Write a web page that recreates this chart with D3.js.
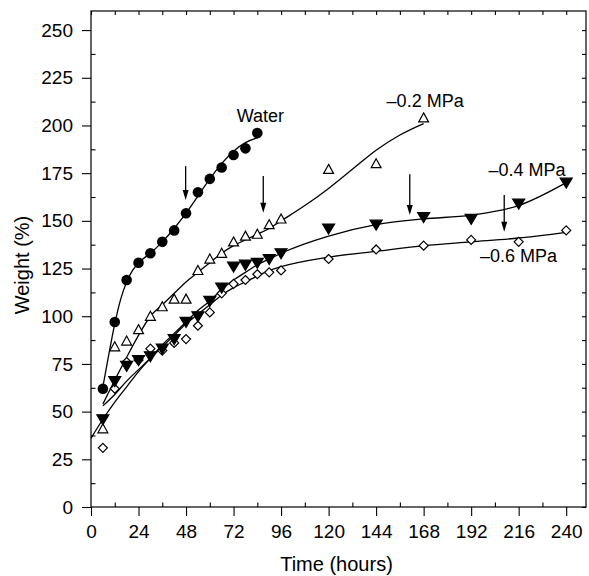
<!DOCTYPE html>
<html>
<head>
<meta charset="utf-8">
<script src="https://cdn.jsdelivr.net/npm/d3@7"></script>
<style>
  body { margin: 0; background: #fff; }
  text { font-family: "Liberation Sans", Arial, sans-serif; fill: #000; }
</style>
</head>
<body>
<svg id="chart" width="589" height="576"></svg>
<script>
// measured points (hours, weight %)
var waterX = [6, 12, 18, 24, 30, 36, 42, 48, 54, 60, 66, 72, 78, 84]
var waterY = [62, 97, 119, 128, 133, 139, 145, 154, 165, 172, 178, 184.5, 188, 196]

var mpa02X = [6, 12, 18, 24, 30, 36, 42, 48, 54, 60, 66, 72, 78, 84, 90, 96, 120, 144, 168]
var mpa02Y = [41, 84, 87, 93, 100, 105, 109, 109, 124, 130, 133, 139, 142, 143, 148, 151, 177, 180, 204]

var mpa04X = [6, 12, 18, 24, 30, 36, 42, 48, 54, 60, 66, 72, 78, 84, 90, 96, 120, 144, 168, 192, 216, 240]
var mpa04Y = [46, 66, 74, 77, 79, 83, 88, 97, 100, 108, 115, 126, 127, 128, 130, 133, 146, 148, 152, 151, 159, 170]

var mpa06X = [6, 12, 18, 24, 30, 36, 42, 48, 54, 60, 66, 72, 78, 84, 90, 96, 120, 144, 168, 192, 216, 240]
var mpa06Y = [31, 62, 76, 77, 83, 82, 86, 88, 95, 102, 112, 117, 119, 122, 123, 124, 130, 135, 137, 140, 139, 145]

// fitted curves
var waterFit = [[6, 63], [9, 80], [12, 96], [15, 109], [18, 118], [21, 124], [24, 128], [30, 133], [36, 139], [42, 146], [48, 154], [54, 163], [60, 172], [66, 180], [72, 186.5], [78, 191], [84, 193.5]]
var mpa02Fit = [[6, 54], [12, 66.5], [18, 78.5], [24, 90], [30, 100], [36, 106], [42, 112], [48, 118], [54, 123], [60, 128], [66, 133], [72, 137], [78, 140], [84, 143], [90, 146], [96, 150], [108, 158], [120, 167], [132, 177], [144, 187], [156, 195], [168, 201]]
var mpa04Fit = [[0, 36], [6, 46], [12, 55], [18, 63], [24, 71], [30, 78], [36, 85], [42, 91], [48, 97], [54, 103], [60, 108], [66, 114], [72, 119], [78, 123], [84, 127], [90, 130], [96, 133], [120, 142], [144, 148], [168, 151], [192, 153], [216, 158], [240, 170]]
var mpa06Fit = [[6, 53], [12, 59], [18, 66], [24, 72], [30, 78], [36, 84], [42, 90], [48, 96], [54, 101], [60, 106], [66, 111], [72, 115], [78, 118], [84, 121], [90, 124], [96, 126], [120, 131], [144, 134], [168, 137], [192, 139], [216, 141], [240, 144]]

var xTicks = [0, 24, 48, 72, 96, 120, 144, 168, 192, 216, 240]
var yTicks = [0, 25, 50, 75, 100, 125, 150, 175, 200, 225, 250]

// annotations in data units
var labelText = ['Water', '\u20130.2 MPa', '\u20130.4 MPa', '\u20130.6 MPa']
var labelX = [73.6, 149.3, 200.7, 196.5]
var labelY = [201.7, 209.8, 173.7, 128.3]
var arrowX = [47.8, 87, 161, 208.7]
var arrowFrom = [178.7, 173.5, 174.4, 163.5]
var arrowTo = [160.9, 154.2, 153, 144.3]

var svg = d3.select('#chart')
var plotL = 91, plotR = 586, plotT = 11, plotB = 507

var x = d3.scaleLinear().domain([0, 250]).range([plotL, plotR])
var y = d3.scaleLinear().domain([0, 260]).range([plotB, plotT])

svg.append('rect').attr('width', 589).attr('height', 576).attr('fill', '#fff')

var minorX = d3.range(12, 250, 24)
var minorY = d3.range(12.5, 260, 25)

//minor ticks point inward
svg.append('g')
  .attr('transform', 'translate(0,' + plotB + ')')
  .call(d3.axisBottom(x).tickValues(minorX).tickSize(-4.5).tickFormat(''))
svg.append('g')
  .attr('transform', 'translate(' + plotL + ',0)')
  .call(d3.axisLeft(y).tickValues(minorY).tickSize(-4.5).tickFormat(''))

//mirror ticks on top and right
svg.append('g')
  .attr('transform', 'translate(0,' + plotT + ')')
  .call(d3.axisTop(x).tickValues(xTicks.concat(minorX)).tickSize(-4).tickFormat(''))
svg.append('g')
  .attr('transform', 'translate(' + plotR + ',0)')
  .call(d3.axisRight(y).tickValues(yTicks.concat(minorY)).tickSize(-4).tickFormat(''))

svg.append('g')
  .attr('transform', 'translate(0,' + plotB + ')')
  .call(d3.axisBottom(x).tickValues(xTicks).tickSize(9).tickPadding(9))
svg.append('g')
  .attr('transform', 'translate(' + plotL + ',0)')
  .call(d3.axisLeft(y).tickValues(yTicks).tickSize(9).tickPadding(9))

svg.selectAll('.domain').remove()
svg.selectAll('.tick line').attr('stroke', '#000').attr('stroke-width', 1.1)
svg.selectAll('.tick text')
  .style('font-family', '"Liberation Sans", Arial, sans-serif')
  .style('font-size', '19px')
  .attr('fill', '#000')

svg.append('rect')
  .attr('x', plotL).attr('y', plotT)
  .attr('width', plotR - plotL).attr('height', plotB - plotT)
  .attr('fill', 'none').attr('stroke', '#000').attr('stroke-width', 1.2)

svg.append('text')
  .attr('x', (plotL + plotR) / 2 - 2)
  .attr('y', 571)
  .attr('text-anchor', 'middle')
  .style('font-size', '20px')
  .text('Time (hours)')

svg.append('text')
  .attr('transform', 'translate(29,265) rotate(-90)')
  .attr('text-anchor', 'middle')
  .style('font-size', '20px')
  .text('Weight (%)')

// fitted lines
var line = d3.line()
  .x(function (d) { return x(d[0]) })
  .y(function (d) { return y(d[1]) })
  .curve(d3.curveMonotoneX)

var fits = [waterFit, mpa02Fit, mpa04Fit, mpa06Fit]
svg.append('g').selectAll('path')
  .data(fits)
  .enter()
  .append('path')
  .attr('d', line)
  .attr('fill', 'none')
  .attr('stroke', '#000')
  .attr('stroke-width', 1.3)

// marker shapes
function triUp (s) {
  return 'M0,' + (-s * 0.55) + 'L' + (s * 0.55) + ',' + (s * 0.45) + 'L' + (-s * 0.55) + ',' + (s * 0.45) + 'Z'
}
function triDown (s) {
  return 'M0,' + (s * 0.55) + 'L' + (s * 0.6) + ',' + (-s * 0.45) + 'L' + (-s * 0.6) + ',' + (-s * 0.45) + 'Z'
}
function diamond (s) {
  return 'M0,' + (-s / 2) + 'L' + (s / 2) + ',0L0,' + (s / 2) + 'L' + (-s / 2) + ',0Z'
}

function zip (xs, ys) {
  return xs.map(function (v, i) { return [v, ys[i]] })
}

var series = [
  { pts: zip(mpa06X, mpa06Y), shape: diamond(9), fill: '#fff' },
  { pts: zip(mpa02X, mpa02Y), shape: triUp(9), fill: '#fff' },
  { pts: zip(mpa04X, mpa04Y), shape: triDown(10), fill: '#000' },
  { pts: zip(waterX, waterY), shape: null, fill: '#000' }
]

series.forEach(function (s) {
  var g = svg.append('g')
  if (s.shape) {
    g.selectAll('path')
      .data(s.pts)
      .enter()
      .append('path')
      .attr('transform', function (d) { return 'translate(' + x(d[0]) + ',' + y(d[1]) + ')' })
      .attr('d', s.shape)
      .attr('fill', s.fill)
      .attr('stroke', '#000')
      .attr('stroke-width', 1.2)
  } else {
    g.selectAll('circle')
      .data(s.pts)
      .enter()
      .append('circle')
      .attr('cx', function (d) { return x(d[0]) })
      .attr('cy', function (d) { return y(d[1]) })
      .attr('r', 5.3)
      .attr('fill', s.fill)
  }
})

// arrows
var arrows = svg.append('g')
arrowX.forEach(function (ax, i) {
  var px = x(ax), y0 = y(arrowFrom[i]), y1 = y(arrowTo[i])
  arrows.append('line')
    .attr('x1', px).attr('x2', px)
    .attr('y1', y0).attr('y2', y1 - 8)
    .attr('stroke', '#000').attr('stroke-width', 1.3)
  arrows.append('path')
    .attr('d', 'M' + (px - 3) + ',' + (y1 - 10) + 'L' + (px + 3) + ',' + (y1 - 10) + 'L' + px + ',' + y1 + 'Z')
    .attr('fill', '#000')
})

svg.append('g').selectAll('text')
  .data(labelText)
  .enter()
  .append('text')
  .attr('x', function (d, i) { return x(labelX[i]) })
  .attr('y', function (d, i) { return y(labelY[i]) })
  .style('font-size', '18px')
  .text(function (d) { return d })
</script>
</body>
</html>
